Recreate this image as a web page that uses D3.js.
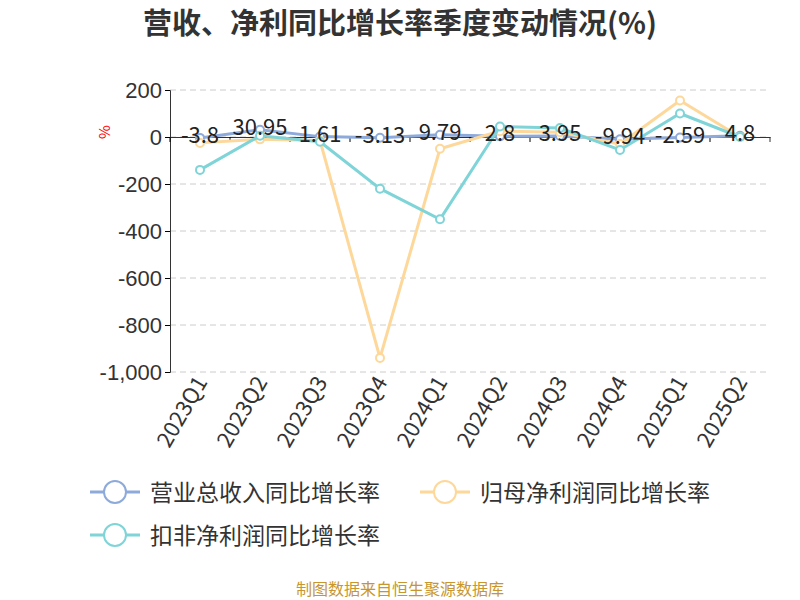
<!DOCTYPE html>
<html lang="en">
<head>
<meta charset="UTF-8">
<title>营收、净利同比增长率季度变动情况</title>
<script src="https://cdn.jsdelivr.net/npm/d3@7"></script>
<style>
  body { margin: 0; background: #fff; font-family: "Noto Sans CJK SC", "Noto Sans", sans-serif; }
</style>
</head>
<body>
<svg id="chart" width="800" height="600"></svg>
<script>
var quarters = ['2023Q1','2023Q2','2023Q3','2023Q4','2024Q1','2024Q2','2024Q3','2024Q4','2025Q1','2025Q2'];
var revenue = [-3.8, 30.95, 1.61, -3.13, 9.79, 2.8, 3.95, -9.94, -2.59, 4.8];
var netProfit = [-25, -10, -15, -940, -50, 25, 20, -30, 155, 0];
var deducted = [-140, 5, -20, -220, -350, 45, 38, -55, 100, 0];
var yTicks = [200, 0, -200, -400, -600, -800, -1000];

var series = [
  { name: '营业总收入同比增长率', values: revenue, color: '#8eaadb' },
  { name: '归母净利润同比增长率', values: netProfit, color: '#fdd89a' },
  { name: '扣非净利润同比增长率', values: deducted, color: '#7fd4d8' }
];

var svg = d3.select('#chart');
var x = d3.scaleBand().domain(quarters).range([170, 770]);
var y = d3.scaleLinear().domain([-1000, 200]).range([372, 90]);
var fmt = function (d) { return d3.format(',')(d).replace('\u2212', '-'); };

svg.append('text').attr('x', 400).attr('y', 34).attr('text-anchor', 'middle')
  .attr('font-size', 29).attr('font-weight', 'bold').attr('fill', '#333')
  .text('营收、净利同比增长率季度变动情况(%)');

// grid
svg.selectAll('.grid').data(yTicks).enter().append('line')
  .attr('x1', 170).attr('x2', 770)
  .attr('y1', function (d) { return y(d); }).attr('y2', function (d) { return y(d); })
  .attr('stroke', '#ccc').attr('stroke-dasharray', '6,4');

var yAxis = svg.append('g').attr('transform', 'translate(170,0)')
  .call(d3.axisLeft(y).tickValues(yTicks).tickSize(5).tickFormat(fmt));
yAxis.select('.domain').attr('stroke', '#333');
yAxis.selectAll('text').attr('font-size', 22).attr('fill', '#333');

var xAxis = svg.append('g').attr('transform', 'translate(0,' + y(0) + ')')
  .call(d3.axisBottom(x).tickSize(5).tickSizeOuter(0).tickFormat(''));
xAxis.select('.domain').attr('stroke', '#333');
xAxis.selectAll('line').attr('x1', -30).attr('x2', -30);
svg.append('line').attr('x1', 770).attr('x2', 770).attr('y1', y(0)).attr('y2', y(0) + 5).attr('stroke', '#333');

svg.selectAll('.xl').data(quarters).enter().append('text')
  .attr('transform', function (d) { return 'translate(' + (x(d) + x.bandwidth() / 2 + 8) + ',382) rotate(-60)'; })
  .attr('text-anchor', 'end').attr('font-size', 22).attr('fill', '#333').text(function (d) { return d; });

svg.append('text').attr('transform', 'translate(110,132) rotate(-90)').attr('text-anchor', 'middle')
  .attr('font-size', 15).attr('fill', 'red').text('%');

var line = d3.line().x(function (d, i) { return x(quarters[i]) + x.bandwidth() / 2; }).y(function (d) { return y(d); });

series.forEach(function (s) {
  svg.append('path').attr('d', line(s.values)).attr('fill', 'none').attr('stroke', s.color).attr('stroke-width', 3);
  svg.selectAll(null).data(s.values).enter().append('circle')
    .attr('cx', function (d, i) { return x(quarters[i]) + x.bandwidth() / 2; })
    .attr('cy', function (d) { return y(d); }).attr('r', 4)
    .attr('fill', '#fff').attr('stroke', s.color).attr('stroke-width', 2);
});

svg.selectAll('.lbl').data(revenue).enter().append('text')
  .attr('x', function (d, i) { return x(quarters[i]) + x.bandwidth() / 2; })
  .attr('y', function (d) { return y(d) + 5; })
  .attr('text-anchor', 'middle').attr('font-size', 22).attr('fill', '#222')
  .text(function (d) { return d; });

// legend
var legendPos = [[90, 492], [420, 492], [90, 535]];
series.forEach(function (s, i) {
  var p = legendPos[i];
  var g = svg.append('g').attr('transform', 'translate(' + p[0] + ',' + p[1] + ')');
  g.append('line').attr('x1', 0).attr('x2', 50).attr('stroke', s.color).attr('stroke-width', 3);
  g.append('circle').attr('cx', 25).attr('r', 11).attr('fill', '#fff').attr('stroke', s.color).attr('stroke-width', 2);
  g.append('text').attr('x', 60).attr('y', 9).attr('font-size', 23).attr('fill', '#333').text(s.name);
});

svg.append('text').attr('x', 400).attr('y', 595).attr('text-anchor', 'middle')
  .attr('font-size', 16).attr('fill', '#c8962e').text('制图数据来自恒生聚源数据库');
</script>
</body>
</html>
